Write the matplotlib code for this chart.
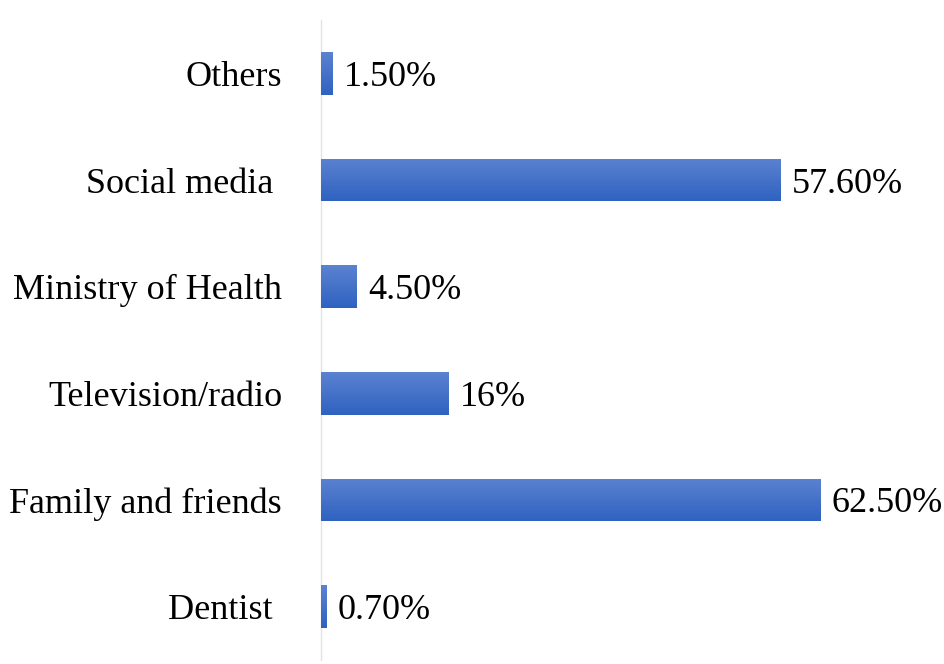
import matplotlib.pyplot as plt
import numpy as np
from matplotlib.colors import LinearSegmentedColormap

categories = ['Dentist ', 'Family and friends', 'Television/radio',
              'Ministry of Health', 'Social media ', 'Others']
values = [0.7, 62.5, 16, 4.5, 57.6, 1.5]
value_labels = ['0.70%', '62.50%', '16%', '4.50%', '57.60%', '1.50%']

plt.rcParams['font.family'] = ['Liberation Serif', 'DejaVu Serif']

fig = plt.figure(figsize=(9.44, 6.64), dpi=100)
ax = fig.add_axes([321 / 944, 4 / 664, 559 / 944, 640 / 664])

y = np.arange(len(categories))
bars = ax.barh(y, values, height=0.4, color='#4472c4', zorder=2)

# vertical gradient inside each bar (light on top, darker at bottom)
cmap = LinearSegmentedColormap.from_list('grad', ['#2f62c0', '#5b82d1'])
grad = np.linspace(0, 1, 100).reshape(-1, 1)
for bar in bars:
    x0, y0 = bar.get_x(), bar.get_y()
    w, h = bar.get_width(), bar.get_height()
    im = ax.imshow(grad, cmap=cmap, aspect='auto', origin='lower',
                   extent=[x0, x0 + w, y0, y0 + h], zorder=3)
    im.set_clip_path(bar)

for yi, v, lab in zip(y, values, value_labels):
    ax.annotate(lab, (v, yi), xytext=(8, 0), textcoords='offset points',
                va='center_baseline', ha='left', fontsize=26)

ax.set_xlim(0, 70)
ax.set_ylim(-0.5, 5.5)
ax.set_yticks(y)
ax.set_yticklabels(categories, fontsize=26, va='center_baseline')
ax.tick_params(axis='y', length=0, pad=28)
ax.set_xticks([])
for s in ['top', 'right', 'bottom']:
    ax.spines[s].set_visible(False)
ax.spines['left'].set_color('#e3e3e3')
ax.spines['left'].set_linewidth(1)

fig.savefig('out.png', dpi=100)
